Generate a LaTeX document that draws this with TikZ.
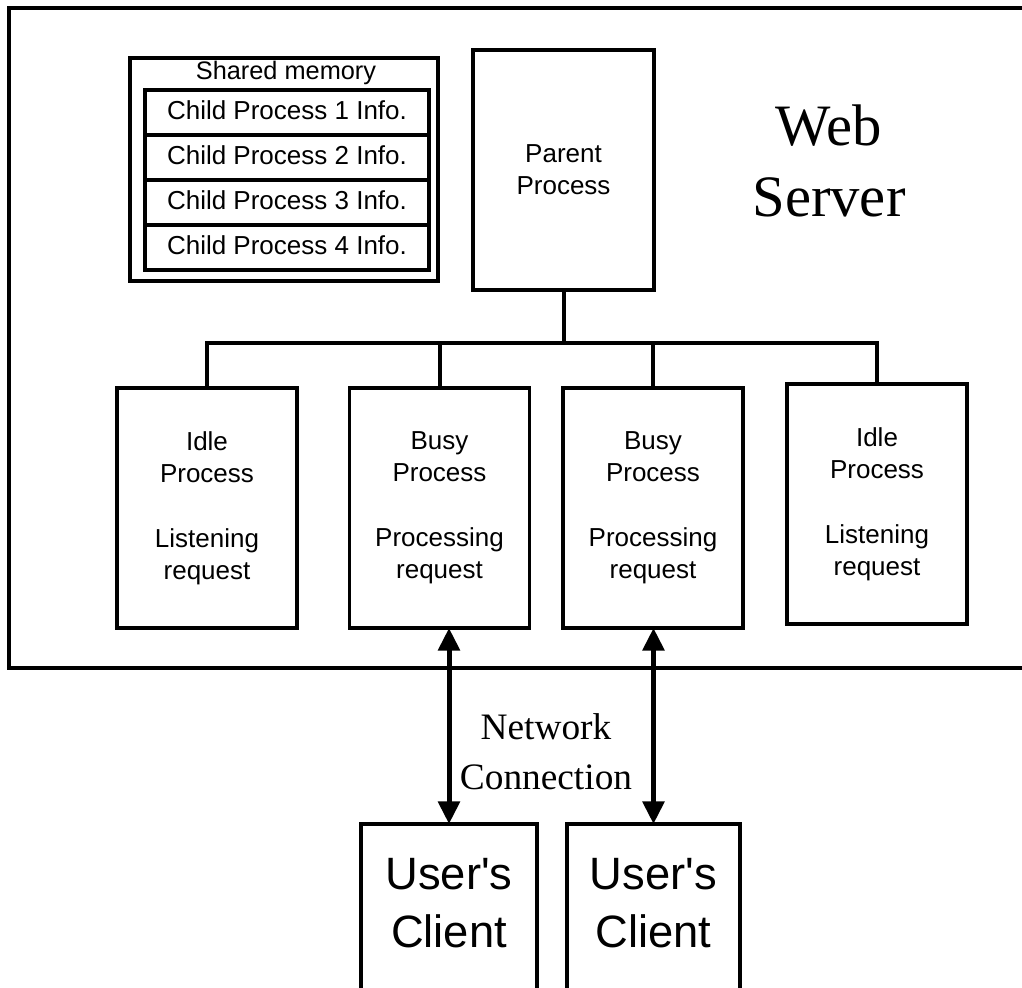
\documentclass[tikz,border=0pt]{standalone}
\usepackage{fontspec}
\setmainfont{Liberation Serif}
\setsansfont{Liberation Sans}
\newfontfamily\clientfont{Liberation Sans}[Ligatures=TeXOff]
\usetikzlibrary{arrows.meta}
\begin{document}
\begin{tikzpicture}[x=0.75pt,y=-0.75pt,
  frame/.style={draw,line width=3pt,rectangle,inner sep=0pt,outer sep=0pt},
  box/.style={draw,line width=2.5pt,rectangle,inner sep=0pt,outer sep=0pt,
    font=\sffamily\fontsize{19.5}{24}\selectfont,align=center},
  row/.style={box,minimum width=213pt,minimum height=33.75pt,text depth=3pt},
  proc/.style={box,minimum width=135pt,minimum height=180pt},
  client/.style={draw,line width=2.5pt,rectangle,inner sep=0pt,outer sep=0pt,minimum height=142.5pt},
  clienttext/.style={font=\clientfont\fontsize{34}{43}\selectfont,align=center,inner sep=0pt},
  tree/.style={line width=3pt},
  netarrow/.style={line width=3.75pt,{Triangle[length=17pt,width=16pt]}-{Triangle[length=17pt,width=16pt]}}
]
\clip (0,0) rectangle (1022,988);
\fill[white] (0,0) rectangle (1022,988);

% web server container
\node[frame,minimum width=773.25pt,minimum height=495pt] (server) at (524.5,338) {};
\node[font=\fontsize{44}{53}\selectfont,align=center,inner sep=0pt] (wstext) at (829,161) {Web\\Server};

% shared memory
\node[box,minimum width=231pt,minimum height=167.25pt] (shm) at (284,169.5) {};
\node[font=\sffamily\fontsize{19}{24}\selectfont,anchor=base,inner sep=0pt] (shmtext) at (286,80) {Shared memory};
\node[row] (r1) at (287,112.5) {Child Process 1 Info.};
\node[row] (r2) at (287,157.5) {Child Process 2 Info.};
\node[row] (r3) at (287,202.5) {Child Process 3 Info.};
\node[row] (r4) at (287,247.5) {Child Process 4 Info.};

% parent
\node[box,minimum width=135.75pt,minimum height=180pt] (parent) at (563.5,170) {Parent\\Process};

% children
\node[proc] (idle1) at (207,508) {Idle\\Process\\[25pt]Listening\\request};
\node[proc] (busy1) at (439.5,508) {Busy\\Process\\[25pt]Processing\\request};
\node[proc] (busy2) at (653,508) {Busy\\Process\\[25pt]Processing\\request};
\node[proc] (idle2) at (877,504) {Idle\\Process\\[25pt]Listening\\request};

% tree
\coordinate (bus) at (563.5,343);
\draw[tree] (parent.south) -- (bus);
\draw[tree] (idle1.north) |- (bus);
\draw[tree] (idle2.north) |- (bus);
\draw[tree] (busy1.north) -- (busy1.north |- bus);
\draw[tree] (busy2.north) -- (busy2.north |- bus);

% clients
\node[client,minimum width=132pt] (c1) at (449,919) {};
\node[client,minimum width=129.75pt] (c2) at (653.5,919) {};
\node[clienttext] (c1text) at (449,903) {User's\\Client};
\node[clienttext] (c2text) at (653.5,903) {User's\\Client};

% network connection
\node[font=\fontsize{28}{37.5}\selectfont,align=center,inner sep=0pt] (net) at (546,752) {Network\\Connection};
\draw[netarrow] (c1.north |- busy1.south) -- (c1.north);
\draw[netarrow] (c2.north |- busy2.south) -- (c2.north);
\end{tikzpicture}
\end{document}
